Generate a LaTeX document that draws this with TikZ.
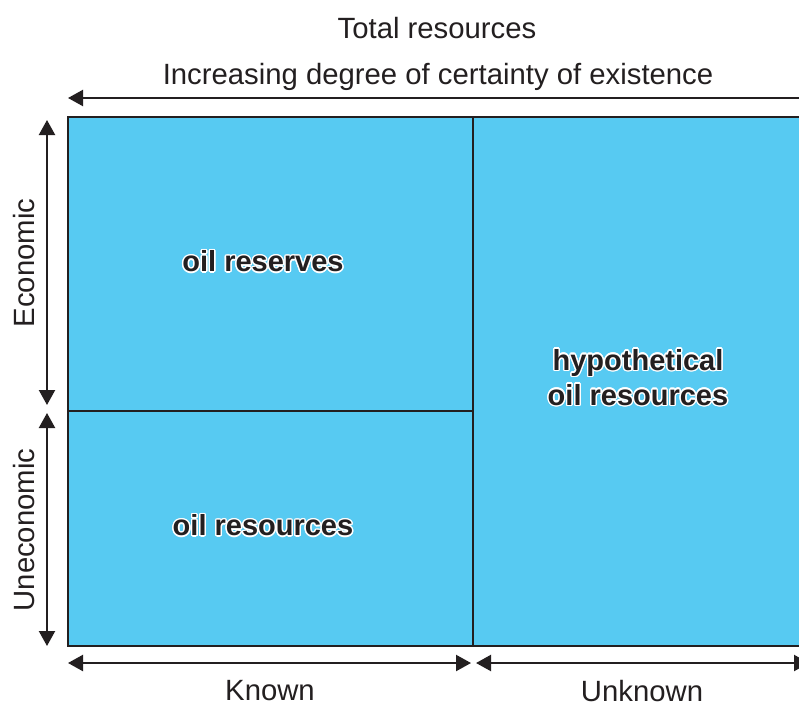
\documentclass[tikz,border=0pt]{standalone}
\usepackage{fontspec}
\setmainfont{Liberation Sans}
\usepackage{contour}
\contournumber{16}
\contourlength{1.4pt}
\usetikzlibrary{arrows.meta}
\definecolor{inkdark}{HTML}{231F20}
\definecolor{cellblue}{HTML}{57CAF2}

\begin{document}
\begin{tikzpicture}[x=1pt, y=-1pt,
		cell/.style={draw=inkdark, line width=2.2pt, fill=cellblue, inner sep=0pt},
		celltext/.style={text=inkdark, font=\fontsize{29}{35}\selectfont\bfseries, align=center, inner sep=0pt},
		axistext/.style={text=inkdark, font=\fontsize{29.3}{35}\selectfont, inner sep=0pt},
		dimarrow/.style={draw=inkdark, line width=2.2pt, -{Triangle[length=15pt, width=16pt]}},
		twoway/.style={draw=inkdark, line width=2.2pt, {Triangle[length=15pt, width=16pt]}-{Triangle[length=15pt, width=16pt]}}]

		\clip (0, 0) rectangle (799, 704);
		\fill [white] (0, 0) rectangle (799, 704);

				% the three fields
				\node [cell, minimum width=405pt, minimum height=294pt] (reserves) at (270.5, 264) {};
				\node [cell, minimum width=405pt, minimum height=235pt] (resources) at (270.5, 528.5) {};
				\node [cell, minimum width=340pt, minimum height=529pt] (hypo) at (643, 381.5) {};

				\node [celltext] (reslab) at (263, 262) {\contour{white}{oil reserves}};
				\node [celltext] (oillab) at (263, 526) {\contour{white}{oil resources}};
				\node [celltext] (hypolab) at (638, 378) {\contour{white}{hypothetical}\\\contour{white}{oil resources}};

				% headings
				\node [axistext] (total) at (437, 28) {Total resources};
				\node [axistext] (certainty) at (438, 77) {Increasing degree of certainty of existence};
				\node [axistext] (known) at (270, 691) {Known};
				\node [axistext] (unknown) at (642, 691) {Unknown};
				\node [axistext, rotate=90] (econ) at (24, 263) {Economic};
				\node [axistext, rotate=90] (uneco) at (24, 530) {Uneconomic};

				% arrow ends
				\coordinate (topR) at (830, 98);
				\coordinate (topL) at (68, 98);
				\coordinate (ecoT) at (47, 120);
				\coordinate (ecoB) at (47, 405);
				\coordinate (uneT) at (47, 413);
				\coordinate (uneB) at (47, 646);
				\coordinate (knL) at (68, 663);
				\coordinate (knR) at (471, 663);
				\coordinate (unL) at (476, 663);
				\coordinate (unR) at (809, 663);

				\draw [dimarrow] (topR) -- (topL);
				\draw [twoway] (ecoT) -- (ecoB);
				\draw [twoway] (uneT) -- (uneB);
				\draw [twoway] (knL) -- (knR);
				\draw [twoway] (unL) -- (unR);

		\end{tikzpicture}
\end{document}
